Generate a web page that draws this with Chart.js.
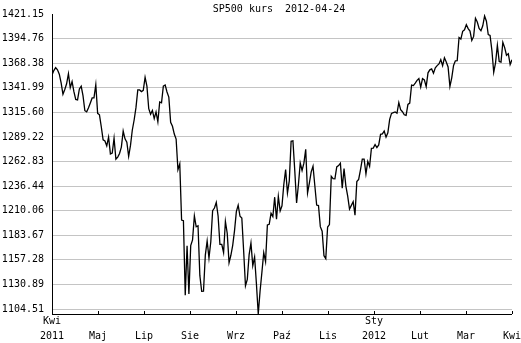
<!DOCTYPE html>
<html>
<head>
<meta charset="utf-8">
<script src="https://cdn.jsdelivr.net/npm/chart.js@4/dist/chart.umd.min.js"></script>
<style>
  html, body { margin: 0; padding: 0; background: #fff; }
  #wrap { width: 521px; height: 343px; }
</style>
</head>
<body>
<div id="wrap"><canvas id="spChart"></canvas></div>
<script>
// SP500 daily close, 2011-04-27 .. 2012-04-24
const closeValues = [
  1355.66, 1360.48, 1363.61,
  1361.22, 1356.62, 1347.32, 1335.10, 1340.20, 1346.29, 1357.16, 1342.08, 1348.65, 1337.77,
  1329.47, 1328.98, 1340.68, 1343.60, 1333.27, 1317.37, 1316.28, 1320.47, 1325.69, 1331.10,
  1331.10, 1345.20,
  1314.55, 1312.94, 1300.16, 1286.17, 1284.94, 1279.56, 1289.00, 1270.98, 1271.83, 1287.87,
  1265.42, 1267.64, 1271.50, 1278.36, 1295.52, 1287.14, 1283.50, 1268.45, 1280.10, 1296.67,
  1307.41, 1320.64,
  1339.67, 1339.67, 1337.88, 1339.22, 1353.22, 1343.80, 1319.49, 1313.64, 1317.72, 1308.87,
  1316.14, 1305.44, 1326.73, 1325.84, 1343.80, 1345.02, 1337.43, 1331.94, 1304.89, 1300.67,
  1292.28,
  1286.94, 1254.05, 1260.34, 1200.07, 1199.38, 1119.46, 1172.53, 1120.76, 1172.64, 1178.81,
  1204.49, 1192.76, 1193.89, 1140.65, 1123.53, 1123.82, 1162.35, 1177.60, 1159.27, 1176.80,
  1210.08, 1212.92, 1218.89,
  1204.42, 1173.97, 1173.97, 1165.24, 1198.62, 1185.90, 1154.23, 1162.27, 1172.87, 1188.68,
  1209.11, 1216.01, 1204.09, 1202.09, 1166.76, 1129.56, 1136.43, 1162.95, 1175.38, 1151.06,
  1160.40, 1131.42,
  1099.23, 1123.95, 1144.03, 1164.97, 1155.46, 1194.89, 1195.54, 1207.25, 1203.66, 1224.58,
  1200.86, 1225.38, 1209.88, 1215.39, 1238.25, 1254.19, 1229.05, 1242.00, 1284.59, 1285.09,
  1253.30,
  1218.28, 1237.90, 1261.15, 1253.23, 1261.12, 1275.92, 1229.10, 1239.69, 1251.78,
  1257.81, 1236.91, 1216.13, 1215.65, 1192.98, 1188.04, 1161.79, 1158.67, 1192.55, 1195.19,
  1246.96,
  1244.58, 1244.28, 1257.08, 1258.47, 1261.01, 1234.35, 1255.19, 1236.47, 1225.73, 1211.82,
  1215.75, 1219.66, 1205.35, 1241.30, 1243.72, 1254.00, 1265.33, 1265.43, 1249.64, 1263.02,
  1257.60,
  1277.06, 1277.30, 1281.06, 1277.81, 1280.70, 1292.08, 1292.48, 1295.50, 1289.09, 1293.67,
  1308.04, 1314.50, 1315.38, 1316.00, 1314.65, 1326.06, 1318.43, 1316.33, 1313.01, 1312.41,
  1324.09, 1325.54, 1344.90, 1344.33, 1347.05, 1349.96, 1351.95, 1342.64, 1351.77, 1350.50,
  1343.23, 1358.04, 1361.23, 1362.21, 1357.66, 1363.46, 1365.74, 1367.59, 1372.18, 1365.68,
  1374.09, 1369.63, 1364.33, 1343.36, 1352.63, 1365.91, 1370.87, 1371.09, 1395.95, 1394.28,
  1402.60, 1404.17, 1409.75, 1405.52, 1402.89, 1392.78, 1397.11, 1416.51, 1412.52, 1405.54,
  1403.28, 1408.47,
  1419.04, 1413.38, 1398.96, 1398.08, 1382.20, 1358.59, 1368.71, 1387.57, 1370.26, 1369.57,
  1390.78, 1385.14, 1376.92, 1378.53, 1366.94, 1371.97
];

const yTickValues = [1104.51, 1130.89, 1157.28, 1183.67, 1210.06, 1236.44, 1262.83,
                     1289.22, 1315.60, 1341.99, 1368.38, 1394.76, 1421.15];

const monthLabels = [['Kwi', '2011'], ['', 'Maj'], ['', 'Lip'], ['', 'Sie'], ['', 'Wrz'],
                     ['', 'Paź'], ['', 'Lis'], ['Sty', '2012'], ['', 'Lut'], ['', 'Mar'], ['', 'Kwi']];

const chartTitle = 'SP500 kurs  2012-04-24';

const FONT = "'DejaVu Sans Mono', 'Liberation Mono', monospace";
const lastIndex = closeValues.length - 1;

// small tick marks pointing up from the bottom axis + title text
const decorPlugin = {
    id: 'decor',
    afterDraw(chart) {
        const ctx = chart.ctx;
        const xs = chart.scales.x;
        const area = chart.chartArea;
        ctx.save();
        ctx.strokeStyle = '#000';
        ctx.lineWidth = 1;
        xs.ticks.forEach(function(t) {
            const px = Math.round(xs.getPixelForValue(t.value)) + 0.5;
            ctx.beginPath();
            ctx.moveTo(px, area.bottom);
            ctx.lineTo(px, area.bottom - 3);
            ctx.stroke();
        });
        ctx.fillStyle = '#000';
        ctx.font = '10px ' + FONT;
        ctx.textAlign = 'center';
        ctx.textBaseline = 'middle';
        ctx.fillText(chartTitle, 279, 9);
        ctx.restore();
    }
};

new Chart(document.getElementById('spChart'), {
    type: 'line',
    data: {
        datasets: [{
            data: closeValues.map(function(v, i) { return { x: i, y: v }; }),
            borderColor: '#000',
            borderWidth: 1.3,
            pointRadius: 0,
            tension: 0,
            fill: false
        }]
    },
    options: {
        responsive: true,
        maintainAspectRatio: false,
        animation: false,
        layout: { padding: { top: 9, right: 8, left: 0, bottom: 0 } },
        plugins: {
            legend: { display: false },
            tooltip: { enabled: false }
        },
        scales: {
            x: {
                type: 'linear',
                min: 0,
                max: lastIndex,
                afterBuildTicks: function(scale) {
                    scale.ticks = monthLabels.map(function(l, k) {
                        return { value: k * lastIndex / 10 };
                    });
                },
                afterFit: function(scale) { scale.height = 29; },
                grid: { display: false, drawTicks: false },
                border: { display: true, color: '#000', width: 1 },
                ticks: {
                    autoSkip: false,
                    maxRotation: 0,
                    padding: 0,
                    color: '#000',
                    font: { family: FONT, size: 10, lineHeight: 1.5 },
                    callback: function(v, i) { return monthLabels[i]; }
                }
            },
            y: {
                min: 1099.23,
                max: 1421.15,
                afterBuildTicks: function(scale) {
                    scale.ticks = yTickValues.map(function(v) { return { value: v }; });
                },
                afterFit: function(scale) { scale.width = 52; },
                grid: {
                    drawTicks: false,
                    color: function(c) {
                        return c.tick && c.tick.value === 1421.15 ? 'rgba(0,0,0,0)' : '#c4c4c4';
                    }
                },
                border: { display: true, color: '#000', width: 1 },
                ticks: {
                    padding: 8,
                    color: '#000',
                    font: { family: FONT, size: 10 },
                    callback: function(v) { return v.toFixed(2); }
                }
            }
        }
    },
    plugins: [decorPlugin]
});
</script>
</body>
</html>
